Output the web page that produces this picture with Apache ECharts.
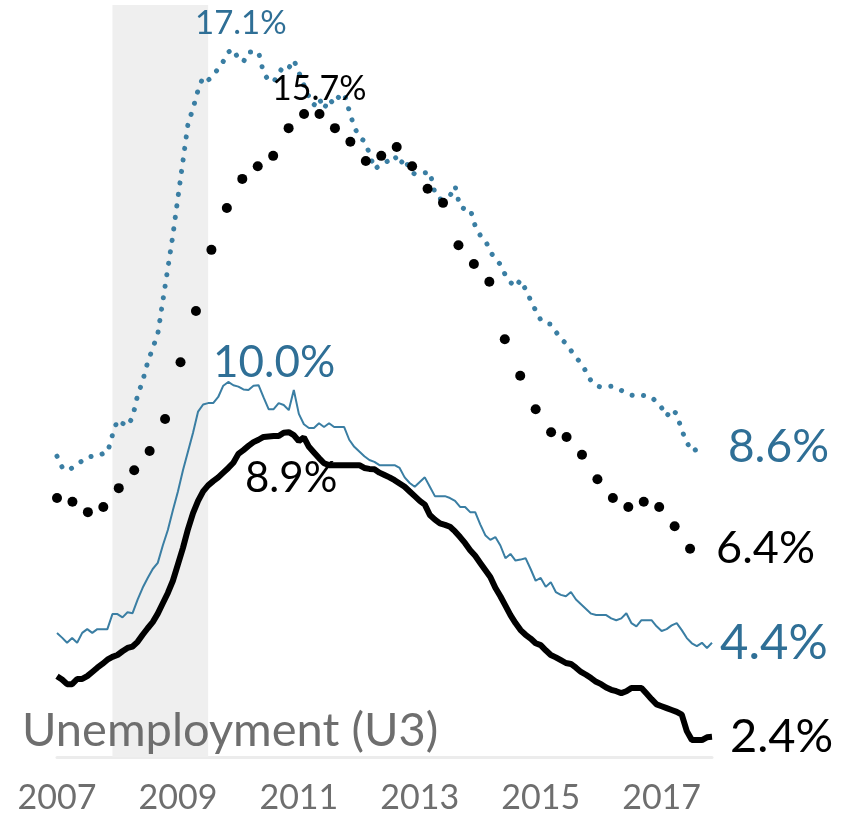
<!DOCTYPE html>
<html lang="en">
<head>
  <meta charset="UTF-8">
  <title>Unemployment</title>
  <script src="https://cdn.jsdelivr.net/npm/echarts@6/dist/echarts.min.js"></script>
</head>
<body style="margin: 0; background: #fff">
  <div id="container" style="width: 861px; height: 817px"></div>
  <script>
    // monthly values, Jan 2007 - Nov 2017
    var u3Black = [
      3.72, 3.65, 3.55, 3.55, 3.66, 3.66, 3.72, 3.81, 3.90, 3.98, 4.07, 4.13,
      4.17, 4.25, 4.32, 4.35, 4.45, 4.60, 4.74, 4.87, 5.05, 5.27, 5.49, 5.75,
      6.10, 6.45, 6.85, 7.19, 7.45, 7.65, 7.78, 7.87, 7.95, 8.05, 8.15, 8.26,
      8.45, 8.53, 8.62, 8.70, 8.75, 8.81, 8.82, 8.83, 8.83, 8.90, 8.91, 8.85,
      8.72, 8.80, 8.60, 8.48, 8.36, 8.25, 8.21, 8.21, 8.21, 8.21, 8.21, 8.21,
      8.21, 8.15, 8.13, 8.12, 8.05, 8.00, 7.95, 7.89, 7.82, 7.75, 7.65, 7.55,
      7.45, 7.37, 7.15, 7.05, 6.97, 6.94, 6.90, 6.80, 6.68, 6.55, 6.40, 6.28,
      6.13, 5.98, 5.83, 5.60, 5.42, 5.22, 5.02, 4.85, 4.70, 4.60, 4.52, 4.42,
      4.38, 4.27, 4.17, 4.12, 4.06, 4.00, 3.98, 3.90, 3.81, 3.75, 3.68, 3.60,
      3.55, 3.48, 3.43, 3.40, 3.36, 3.40, 3.47, 3.47, 3.47, 3.35, 3.23, 3.12,
      3.08, 3.04, 3.00, 2.96, 2.90, 2.55, 2.36, 2.36, 2.36, 2.42, 2.43
    ];
    var u3Blue = [
      4.64, 4.54, 4.43, 4.53, 4.43, 4.64, 4.72, 4.64, 4.72, 4.72, 4.72, 5.04,
      5.04, 4.97, 5.08, 5.06, 5.35, 5.60, 5.81, 6.00, 6.13, 6.50, 6.83, 7.25,
      7.65, 8.10, 8.50, 8.90, 9.35, 9.50, 9.53, 9.53, 9.66, 9.90, 9.98, 9.91,
      9.88, 9.82, 9.81, 9.90, 9.91, 9.65, 9.40, 9.40, 9.53, 9.49, 9.38, 9.81,
      9.30, 9.08, 9.00, 9.00, 9.10, 9.02, 9.10, 9.02, 9.02, 9.02, 8.75, 8.60,
      8.50, 8.40, 8.32, 8.28, 8.21, 8.21, 8.21, 8.21, 8.15, 7.95, 7.83, 7.75,
      7.85, 7.95, 7.75, 7.55, 7.55, 7.55, 7.51, 7.45, 7.32, 7.32, 7.21, 7.21,
      6.95, 6.72, 6.62, 6.68, 6.50, 6.23, 6.32, 6.18, 6.20, 6.23, 6.00, 5.75,
      5.81, 5.62, 5.72, 5.51, 5.45, 5.42, 5.51, 5.35, 5.25, 5.15, 5.05, 5.02,
      5.02, 5.02, 4.95, 4.91, 4.95, 5.06, 4.85, 4.78, 4.91, 4.91, 4.91, 4.78,
      4.68, 4.72, 4.80, 4.85, 4.70, 4.53, 4.42, 4.36, 4.43, 4.32, 4.43
    ];
    // monthly values, Jan 2007 - Sep 2017
    var u6Blue = [
      8.40, 8.17, 8.09, 8.15, 8.23, 8.30, 8.38, 8.40, 8.40, 8.45, 8.47, 8.85,
      9.17, 9.10, 9.04, 9.23, 9.70, 10.0, 10.4, 10.7, 11.0, 11.7, 12.4, 13.1,
      13.9, 14.68, 15.47, 15.8, 16.19, 16.47, 16.4, 16.5, 16.65, 16.8, 17.0, 17.06,
      16.85, 16.79, 17.0, 17.0, 17.0, 16.55, 16.4, 16.36, 16.55, 16.7, 16.66, 16.83,
      16.57, 16.3, 16.05, 15.87, 16.02, 15.79, 16.0, 15.89, 16.06, 16.12, 15.75, 15.4,
      15.2, 15.1, 14.85, 14.51, 14.58, 14.64, 14.7, 14.79, 14.6, 14.74, 14.49, 14.4,
      14.42, 14.43, 14.45, 14.0, 13.87, 13.9, 13.94, 14.15, 13.7, 13.66, 13.66, 13.3,
      13.1, 13.0, 12.75, 12.6, 12.48, 12.25, 12.1, 12.0, 12.15, 11.95, 11.72, 11.5,
      11.3, 11.22, 11.21, 11.05, 10.9, 10.8, 10.65, 10.5, 10.38, 10.2, 10.0, 9.9,
      9.87, 9.88, 9.89, 9.85, 9.8, 9.75, 9.7, 9.68, 9.7, 9.68, 9.66, 9.55,
      9.43, 9.25, 9.4, 9.3, 8.95, 8.7, 8.5, 8.55, 8.6
    ];
    // dotted black series, 42 evenly spaced points
    var u6Black = [
      7.51, 7.43, 7.21, 7.32, 7.72, 8.10, 8.51, 9.19, 10.4, 11.49, 12.79, 13.68,
      14.3, 14.57, 14.79, 15.38, 15.68, 15.68, 15.38, 15.09, 14.68, 14.79, 14.98, 14.57,
      14.09, 13.79, 12.89, 12.49, 12.11, 10.89, 10.11, 9.4, 8.91, 8.81, 8.43, 7.91,
      7.51, 7.32, 7.43, 7.32, 6.91, 6.43
    ];
    var yearTicks = [2007, 2009, 2011, 2013, 2015, 2017];
    var recession = [2007 + 11 / 12, 2009.5];

    var blue = '#3a7ea3';
    var blueText = '#2f6f96';
    var grey = '#6e6e6e';
    var font = 'Lato, "Noto Sans", sans-serif';

    function monthly(arr) {
      return arr.map(function (v, i) { return [2007 + i / 12, v]; });
    }
    function endLabel(color, dist, size) {
      return {
        show: true, distance: dist, color: color, fontSize: size, fontFamily: font,
        formatter: function (p) { return p.value[1].toFixed(1) + '%'; }
      };
    }
    function note(text, x, y, size, color) {
      return {
        type: 'text', x: x, y: y, z: 100,
        style: { text: text, fill: color, fontSize: size, fontFamily: font, verticalAlign: 'middle' }
      };
    }

    var chart = echarts.init(document.getElementById('container'));
    var option = {
      animation: false,
      grid: { left: 57, right: 149, top: 5, bottom: 60 },
      xAxis: [{
        type: 'value', min: 2007, max: 2017 + 10 / 12, interval: 2,
        splitLine: { show: false },
        axisTick: { show: false },
        axisLine: { show: true, lineStyle: { color: '#ececec', width: 3 } },
        axisLabel: {
          margin: 24, color: grey, fontSize: 34, fontFamily: font,
          showMaxLabel: false,
          formatter: function (v) { return yearTicks.indexOf(v) >= 0 ? String(v) : ''; }
        }
      }, {
        type: 'value', min: 0, max: 42.42, show: false
      }],
      yAxis: { type: 'value', min: 2, max: 18, show: false },
      graphic: [
        note('17.1%', 195, 23, 33, blueText),
        note('15.7%', 272, 89, 34, '#000'),
        note('10.0%', 213, 363, 44, blueText),
        note('8.9%', 245, 478, 42, '#000'),
        note('Unemployment (U3)', 22, 731, 47, grey)
      ],
      series: [
        {
          name: 'U6 blue', type: 'line', data: monthly(u6Blue),
          showSymbol: false, z: 2,
          lineStyle: { color: blue, width: 5, type: [0.1, 11.5], cap: 'round' },
          endLabel: endLabel(blueText, 26, 46),
          markArea: {
            silent: true,
            itemStyle: { color: '#efefef' },
            data: [[{ xAxis: recession[0] }, { xAxis: recession[1] }]]
          }
        },
        {
          name: 'U6 black', type: 'line', xAxisIndex: 1,
          data: u6Black.map(function (v, i) { return [i, v]; }),
          showSymbol: true, showAllSymbol: true, symbol: 'circle', symbolSize: 10, z: 3,
          itemStyle: { color: '#000' },
          lineStyle: { width: 0, opacity: 0 },
          endLabel: endLabel('#000', 26, 45)
        },
        {
          name: 'U3 blue', type: 'line', data: monthly(u3Blue),
          showSymbol: false, z: 4,
          lineStyle: { color: blue, width: 2 },
          endLabel: endLabel(blueText, 8, 49)
        },
        {
          name: 'U3 black', type: 'line', data: monthly(u3Black),
          showSymbol: false, z: 5,
          lineStyle: { color: '#000', width: 6 },
          endLabel: endLabel('#000', 18, 47)
        }
      ]
    };
    chart.setOption(option);
  </script>
</body>
</html>
